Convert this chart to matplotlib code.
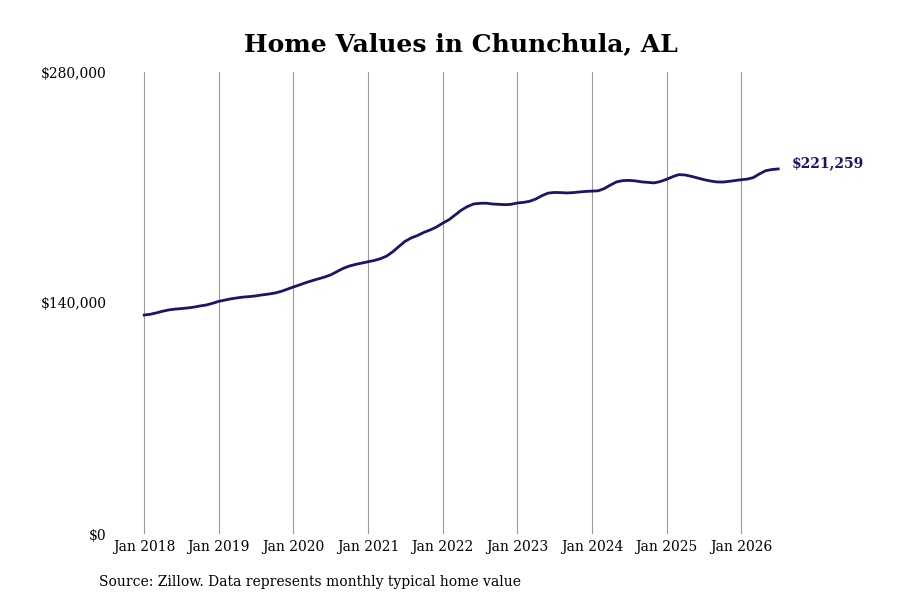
import numpy as np
import pandas as pd
import matplotlib
matplotlib.use("Agg")
import matplotlib.pyplot as plt
import matplotlib.dates as mdates
from matplotlib.ticker import FuncFormatter

# monthly typical home value, Jan 2018 .. Jul 2026 (thousands)
values_k = [
    132.7, 133.2, 134.0, 135.0, 135.8, 136.3, 136.6, 137.0, 137.5, 138.2, 138.8, 139.8,  # 2018
    141.0, 141.8, 142.5, 143.1, 143.6, 143.9, 144.3, 144.9, 145.4, 146.0, 147.0, 148.3,  # 2019
    149.7, 151.0, 152.3, 153.5, 154.6, 155.7, 157.0, 159.0, 161.0, 162.4, 163.4, 164.2,  # 2020
    165.0, 165.8, 166.8, 168.4, 171.0, 174.3, 177.4, 179.5, 181.0, 182.8, 184.3, 186.0,  # 2021
    188.4, 190.5, 193.2, 196.2, 198.4, 200.0, 200.4, 200.5, 200.0, 199.8, 199.6, 199.8,  # 2022
    200.6, 201.0, 201.6, 203.0, 205.0, 206.6, 207.0, 206.9, 206.7, 206.9, 207.3, 207.6,  # 2023
    207.8, 208.0, 209.3, 211.5, 213.4, 214.2, 214.3, 214.0, 213.4, 213.1, 212.8, 213.6,  # 2024
    215.0, 216.6, 217.8, 217.6, 216.8, 215.8, 214.8, 214.0, 213.4, 213.3, 213.7, 214.2,  # 2025
    214.7, 215.1, 216.0, 218.3, 220.2, 220.9, 221.259,                                   # 2026
]
dates = pd.date_range("2018-01-01", periods=len(values_k), freq="MS")
values = np.array(values_k) * 1000

tick_years = list(range(2018, 2027))
y_ticks = [0, 140000, 280000]
title = "Home Values in Chunchula, AL"
source = "Source: Zillow. Data represents monthly typical home value"
line_color = "#16166a"

plt.rcParams['font.family'] = ['DejaVu Serif']

fig = plt.figure(figsize=(9, 6), dpi=100)
ax = fig.add_axes([0.128, 0.11, 0.80, 0.77])

ax.plot(dates, values, color=line_color, linewidth=2)

ticks = [pd.Timestamp(f"{y}-01-01") for y in tick_years]
ax.set_xticks(ticks)
ax.set_xticklabels([f"Jan {y}" for y in tick_years], fontsize=10)
ax.set_xlim(pd.Timestamp("2018-01-01") - pd.Timedelta(days=142),
            pd.Timestamp("2026-01-01") + pd.Timedelta(days=460))
ax.grid(axis='x', color='#999999', linewidth=0.8)

ax.set_ylim(0, 280000)
ax.set_yticks(y_ticks)
ax.yaxis.set_major_formatter(FuncFormatter(lambda v, p: f"${v:,.0f}"))
ax.tick_params(axis='y', labelsize=10, length=0, pad=6)
ax.tick_params(axis='x', length=0, pad=4)
for s in ax.spines.values():
    s.set_visible(False)

ax.annotate(f"${values[-1]:,.0f}", xy=(dates[-1], values[-1]), xytext=(10, 4),
            textcoords='offset points', color=line_color, fontsize=10,
            fontweight='bold', va='center', ha='left')

fig.text(0.512, 0.927, title, ha='center', va='center', fontsize=18, fontweight='bold')
fig.text(0.11, 0.03, source, ha='left', va='center', fontsize=10)

fig.savefig("out.png", dpi=100)
